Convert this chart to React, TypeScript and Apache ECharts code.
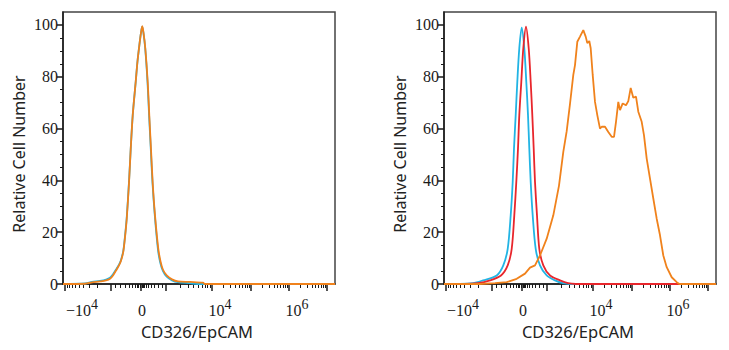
import React, { useEffect, useRef } from 'react';
import * as echarts from 'echarts';

// ---- axis definitions (x in display channels 0..272 of the biexponential scale) ----
const X_MAX = 272;
const Y_MAX = 105;
const yMajorTicks = [0, 20, 40, 60, 80, 100];
const yMinorTicks = [5, 10, 15, 25, 30, 35, 45, 50, 55, 65, 70, 75, 85, 90, 95];
const xLabels = ['−10^4', '0', '10^4', '10^6'];
const xLabelPos = [19, 79, 157, 234];
// -1e4, -1e3, 0, 1e3, 1e4, 1e5, 1e6, 1e7
const xDecadePos = [2, 48, 78, 103, 149, 188, 226, 264];
const xLinearMinor = [52, 57, 62, 66, 69.5, 72, 74, 75.5, 76.8, 79.2, 80.3, 81.6, 83.3, 85.5, 88, 91.5, 95.5, 99.5];

// ---- data: [channel, relative cell number] ----
const leftCyan: [number, number][] = [
  [0, 0], [22, 0.2], [29, 0.8], [37, 1.2], [43, 1.7], [47, 2.4], [50, 3.8], [53, 5.6], [56, 7.5], [58, 9.3],
  [60.3, 12.8], [62, 18.5], [63.7, 25.5], [66, 39.5], [67.7, 52], [69.7, 65], [72.7, 78], [74.5, 86], [76.3, 92],
  [78, 97], [79.2, 99.3], [80.4, 97], [82.2, 91], [84.5, 78], [86.1, 65], [87.8, 52], [89.5, 39], [91.8, 26.5],
  [95, 13.2], [97.4, 8], [100, 5], [103.7, 2.8], [109, 1.4], [115, 0.7], [127, 0.3], [135, 0], [272, 0],
];
const leftOrange: [number, number][] = [
  [0, 0], [22, 0.1], [29, 0.6], [37, 1.0], [43, 1.4], [47, 2.0], [50, 3.3], [53, 5.2], [56, 7.2], [58, 9],
  [60.3, 12.5], [62, 18], [63.7, 25], [66, 39], [67.7, 52], [69.7, 65], [72.7, 78], [74.5, 86], [76.3, 92],
  [78, 97], [79.3, 99.5], [80.5, 97], [82.3, 91], [84.7, 78], [86.3, 65], [88, 52], [89.7, 39], [92, 26.5],
  [95.3, 13.6], [97.7, 8.4], [100, 5.5], [103.7, 3.3], [109, 1.8], [115, 1.0], [127, 0.8], [140, 0.5], [142, 0], [272, 0],
];
const rightCyan: [number, number][] = [
  [0, 0], [16, 0], [29, 0.3], [39, 1.4], [52.7, 3.3], [59.3, 7.2], [63.7, 13.6], [66.7, 26.5], [68.7, 39.4],
  [70, 52.3], [71.7, 65.2], [73.3, 78], [75.3, 91], [77.7, 99], [80.3, 91], [82.3, 78], [84, 65.2], [85.3, 52.3],
  [86.7, 39.4], [88.7, 26.5], [91.7, 13.6], [96, 7.2], [102.7, 3.3], [111, 1.4], [119, 0.3], [126, 0], [272, 0],
];
const rightRed: [number, number][] = [
  [0, 0], [20, 0], [34, 0.3], [46, 1.4], [57, 3.3], [63.7, 7.2], [67.7, 13.6], [70.3, 26.5], [72.3, 39.4],
  [74, 52.3], [75.3, 65.2], [77.3, 78], [79.3, 91], [82, 99.3], [84.7, 91], [86.7, 78], [88.3, 65.2], [89.7, 52.3],
  [91, 39.4], [93, 26.5], [95.3, 13.6], [99.3, 7.2], [106, 3.3], [116, 1.4], [124, 0.3], [132, 0], [272, 0],
];
const rightOrange: [number, number][] = [
  [0, 0], [36, 0], [51, 0.3], [62.7, 0.7], [72.7, 2], [81, 4], [86, 6.3], [91, 7.2], [96, 11], [102.7, 17.5],
  [109.3, 26.5], [115, 38], [119.3, 51], [122.7, 59], [126, 69.5], [129.3, 80.7], [131, 84.5], [133.3, 93.5],
  [136, 95.5], [139.3, 98], [141.7, 95.5], [143.3, 93], [145.3, 93.8], [146.7, 91], [148.7, 80.7], [151, 70.3],
  [153.3, 65.2], [156, 60], [157.7, 60.7], [161, 60.7], [164.3, 58.7], [167.7, 56.8], [170, 56.8], [172, 62.6],
  [174.3, 70.3], [176, 67.1], [178.7, 69.7], [182, 69], [184.3, 70.6], [186.7, 75.7], [189.3, 71.9], [192, 72.3],
  [194.3, 66.5], [197.7, 62.6], [200, 57.4], [202.7, 48.4], [206, 40.7], [209.3, 33], [212.7, 25.2], [216, 18.8],
  [219.3, 11], [222.7, 6.5], [227.7, 2.6], [232.7, 0.7], [235.3, 0], [272, 0],
];

const CYAN = '#22B4E4';
const RED = '#E8262C';
const ORANGE = '#F0821C';
const SERIF = 'Liberation Serif';
const SANS = 'Noto Sans';

function buildMinorX(): number[] {
  const out: number[] = [];
  const [n4, n3] = [xDecadePos[0], xDecadePos[1]];
  for (let k = 2; k <= 9; k++) out.push(n3 - (n3 - n4) * Math.log10(k));
  out.push(...xLinearMinor);
  for (let d = 3; d < xDecadePos.length - 1; d++) {
    const a = xDecadePos[d];
    const b = xDecadePos[d + 1];
    for (let k = 2; k <= 9; k++) out.push(a + (b - a) * Math.log10(k));
  }
  return out;
}

function fmtX(v: number): string {
  const i = xLabelPos.findIndex((p) => Math.abs(p - v) < 0.01);
  if (i < 0) return '';
  const [b, s] = xLabels[i].split('^');
  return s ? `{b|${b}}{s|${s}}` : `{c|${b}}`;
}

const App: React.FC = () => {
  const ref = useRef<HTMLDivElement>(null);

  useEffect(() => {
    document.body.style.margin = '0';
    if (!ref.current) return;
    const chart = echarts.init(ref.current, undefined, { renderer: 'svg' });
    const minorX = buildMinorX();
    const panels = [{ left: 63 }, { left: 444 }];
    const grids: any[] = [];
    const xAxes: any[] = [];
    const yAxes: any[] = [];
    panels.forEach((p) => {
      grids.push({
        left: p.left, top: 12, width: X_MAX, height: 272, show: true,
        borderColor: '#444', borderWidth: 1.5, backgroundColor: '#fff',
      });
    });
    panels.forEach((p) => {
      grids.push({ left: p.left, top: 12, width: X_MAX, height: 272, show: false });
    });
    const axisColor = '#1a1a1a';
    for (let g = 0; g < 2; g++) {
      xAxes.push({
        type: 'value', gridIndex: g, min: 0, max: X_MAX, position: 'bottom',
        axisLine: { show: true, onZero: false, lineStyle: { color: axisColor, width: 1.5 } },
        axisTick: { show: true, customValues: xDecadePos, length: 7, lineStyle: { color: axisColor, width: 1.5 } },
        axisLabel: {
          show: true, customValues: xLabelPos, formatter: fmtX, margin: 13,
          fontFamily: SERIF, color: axisColor,
          rich: {
            b: { fontFamily: SERIF, fontSize: 16, color: axisColor },
            c: { fontFamily: SERIF, fontSize: 16, color: axisColor, padding: [5, 0, 0, 0] },
            s: { fontFamily: SERIF, fontSize: 14, color: axisColor, padding: [0, 0, 12, 0] },
          },
        },
        splitLine: { show: false },
      });
      yAxes.push({
        type: 'value', gridIndex: g, min: 0, max: Y_MAX, position: 'left',
        axisLine: { show: true, onZero: false, lineStyle: { color: axisColor, width: 1.5 } },
        axisTick: { show: true, customValues: yMajorTicks, length: 6, lineStyle: { color: axisColor, width: 1.5 } },
        axisLabel: {
          show: true, customValues: yMajorTicks, margin: 5,
          fontFamily: SERIF, fontSize: 16, color: axisColor,
        },
        splitLine: { show: false },
      });
    }
    for (let g = 2; g < 4; g++) {
      xAxes.push({
        type: 'value', gridIndex: g, min: 0, max: X_MAX, position: 'bottom',
        axisLine: { show: false },
        axisTick: { show: true, customValues: minorX, length: 4, lineStyle: { color: axisColor, width: 1 } },
        axisLabel: { show: false },
        splitLine: { show: false },
      });
      yAxes.push({
        type: 'value', gridIndex: g, min: 0, max: Y_MAX, position: 'left',
        axisLine: { show: false },
        axisTick: { show: true, customValues: yMinorTicks, length: 3, lineStyle: { color: axisColor, width: 1 } },
        axisLabel: { show: false },
        splitLine: { show: false },
      });
    }

    const mk = (data: [number, number][], color: string, idx: number, smooth: number | boolean) => ({
      type: 'line', xAxisIndex: idx, yAxisIndex: idx, data, showSymbol: false, symbol: 'none',
      smooth, lineStyle: { color, width: 1.8 }, itemStyle: { color }, silent: true,
    });

    const names: any[] = [];
    panels.forEach((p) => {
      names.push({
        type: 'text', x: p.left - 44, y: 154, rotation: Math.PI / 2,
        style: { text: 'Relative Cell Number', fontFamily: SANS, fontSize: 16, fill: '#222', align: 'center', verticalAlign: 'middle' },
      });
      names.push({
        type: 'text', x: p.left + 134, y: 331,
        style: { text: 'CD326/EpCAM', fontFamily: SANS, fontSize: 16.5, fill: '#222', align: 'center', verticalAlign: 'middle' },
      });
    });

    chart.setOption({
      animation: false,
      backgroundColor: '#fff',
      grid: grids,
      xAxis: xAxes,
      yAxis: yAxes,
      graphic: names,
      series: [
        mk(leftCyan, CYAN, 0, 0.3),
        mk(leftOrange, ORANGE, 0, 0.3),
        mk(rightCyan, CYAN, 1, 0.3),
        mk(rightRed, RED, 1, 0.3),
        mk(rightOrange, ORANGE, 1, false),
      ],
    });
    return () => chart.dispose();
  }, []);

  return <div ref={ref} style={{ width: 729, height: 350 }} />;
};

export default App;
